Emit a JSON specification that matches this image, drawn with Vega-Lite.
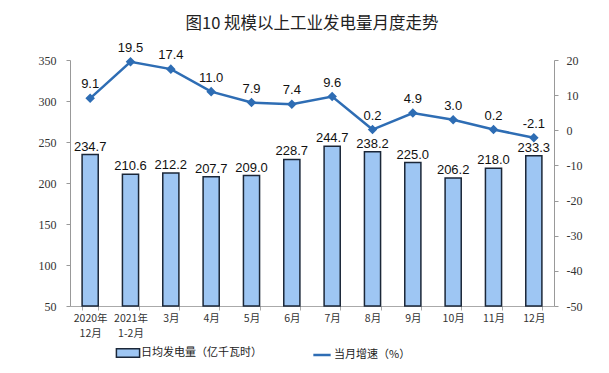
{
  "$schema": "https://vega.github.io/schema/vega-lite/v6.json",
  "width": 484,
  "height": 246,
  "autosize": {"type": "none"},
  "padding": {"left": 70, "top": 60, "right": 55, "bottom": 67},
  "background": "white",
  "title": {
    "text": "图10 规模以上工业发电量月度走势",
    "font": "Noto Sans CJK SC",
    "fontSize": 16.5,
    "fontWeight": "normal",
    "color": "#222",
    "anchor": "middle",
    "frame": "group",
    "offset": 9
  },
  "config": {
    "view": {"stroke": null},
    "locale": {
      "number": {"decimal": ".", "thousands": ",", "grouping": [3], "currency": ["$", ""], "minus": "-"}
    },
    "legend": {
      "orient": "none",
      "direction": "horizontal",
      "labelFont": "Noto Sans CJK SC",
      "labelFontSize": 11,
      "labelColor": "#222",
      "padding": 0,
      "labelOffset": 2,
      "title": null
    }
  },
  "data": {
    "values": [
      {"month": "2020年 12月", "power": 234.7, "growth": 9.1},
      {"month": "2021年 1-2月", "power": 210.6, "growth": 19.5},
      {"month": "3月", "power": 212.2, "growth": 17.4},
      {"month": "4月", "power": 207.7, "growth": 11.0},
      {"month": "5月", "power": 209.0, "growth": 7.9},
      {"month": "6月", "power": 228.7, "growth": 7.4},
      {"month": "7月", "power": 244.7, "growth": 9.6},
      {"month": "8月", "power": 238.2, "growth": 0.2},
      {"month": "9月", "power": 225.0, "growth": 4.9},
      {"month": "10月", "power": 206.2, "growth": 3.0},
      {"month": "11月", "power": 218.0, "growth": 0.2},
      {"month": "12月", "power": 233.3, "growth": -2.1}
    ]
  },
  "encoding": {
    "x": {
      "field": "month",
      "type": "nominal",
      "sort": null,
      "scale": {"paddingInner": 0.6, "paddingOuter": 0.3},
      "axis": {
        "title": null,
        "labelAngle": 0,
        "labelExpr": "split(datum.label, ' ')",
        "labelFont": "Noto Sans CJK SC",
        "labelFontSize": 10.5,
        "labelColor": "#333",
        "labelPadding": 3,
        "domainColor": "#aaa",
        "tickColor": "#aaa",
        "tickBand": "extent",
        "tickSize": 4,
        "labelLineHeight": 15
      }
    }
  },
  "layer": [
    {
      "encoding": {
        "y": {
          "field": "power",
          "type": "quantitative",
          "scale": {"domain": [50, 350], "nice": false, "zero": false},
          "axis": {
            "title": null,
            "values": [50, 100, 150, 200, 250, 300, 350],
            "grid": false,
            "labelOverlap": false,
            "labelFont": "Liberation Serif",
            "labelFontSize": 12,
            "labelColor": "#333",
            "domainColor": "#999",
            "tickColor": "#999",
            "tickSize": 4,
            "labelPadding": 10
          }
        }
      },
      "layer": [
        {
          "mark": {"type": "bar", "stroke": "#1b2738", "strokeWidth": 1.5},
          "encoding": {
            "y2": {"datum": 50},
            "fill": {
              "datum": "日均发电量（亿千瓦时）",
              "scale": {"range": ["#9ec6f3"]},
              "legend": {
                "legendX": 50,
                "legendY": 285,
                "labelOffset": 5,
                "symbolType": "M-1.6,-0.6H1.6V0.6H-1.6Z",
                "symbolSize": 210,
                "symbolStrokeColor": "#1b2738",
                "symbolStrokeWidth": 1.5
              }
            }
          }
        },
        {
          "mark": {"type": "text", "dy": -8, "font": "Liberation Sans", "fontSize": 13, "color": "#111"},
          "encoding": {
            "text": {"field": "power", "type": "quantitative", "format": ".1f"}
          }
        }
      ]
    },
    {
      "encoding": {
        "y": {
          "field": "growth",
          "type": "quantitative",
          "scale": {"domain": [-50, 20], "nice": false, "zero": false},
          "axis": {
            "orient": "right",
            "title": null,
            "values": [-50, -40, -30, -20, -10, 0, 10, 20],
            "grid": false,
            "labelOverlap": false,
            "labelFont": "Liberation Serif",
            "labelFontSize": 12,
            "labelColor": "#333",
            "domainColor": "#999",
            "tickColor": "#999",
            "tickSize": 4,
            "labelPadding": 8
          }
        }
      },
      "layer": [
        {
          "mark": {
            "type": "line",
            "strokeWidth": 2.5,
            "point": {"shape": "diamond", "filled": true, "size": 45, "color": "#2e6db4"}
          },
          "encoding": {
            "stroke": {
              "datum": "当月增速（%）",
              "scale": {"range": ["#2e6db4"]},
              "legend": {
                "legendX": 242,
                "legendY": 285,
                "symbolType": "stroke",
                "symbolStrokeWidth": 2.5,
                "symbolSize": 300
              }
            }
          }
        },
        {
          "mark": {"type": "text", "dy": -14, "font": "Liberation Sans", "fontSize": 13, "color": "#111"},
          "encoding": {
            "text": {"field": "growth", "type": "quantitative", "format": ".1f"}
          }
        }
      ]
    }
  ],
  "resolve": {"scale": {"y": "independent"}}
}
